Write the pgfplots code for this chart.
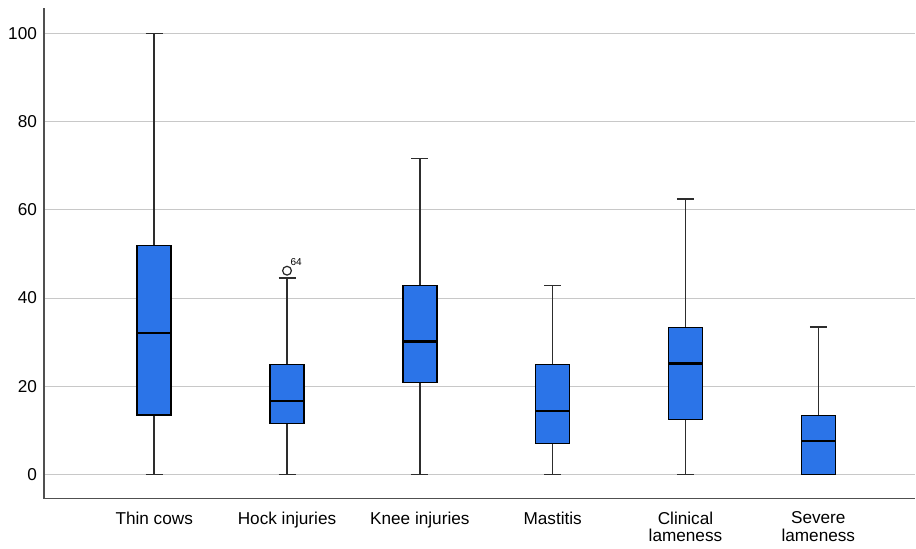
\documentclass[border=0pt]{standalone}
\usepackage{pgfplots}
\pgfplotsset{compat=1.18}
\usepgfplotslibrary{statistics}
\usepackage{fontspec}
\setmainfont{Liberation Sans}
\definecolor{boxblue}{RGB}{43,116,232}
\definecolor{gridgray}{RGB}{200,200,200}
\definecolor{axgray}{RGB}{80,80,80}
\definecolor{whgray}{RGB}{45,45,45}
\begin{document}
\begin{tikzpicture}
\begin{axis}[
  scale only axis,
  width=436pt, height=245.5pt,
  xmin=-0.83, xmax=5.73,
  ymin=-5.5, ymax=105.8,
  axis x line=bottom, axis y line=left,
  axis line style={axgray, line width=0.75pt, -},
  xtick={0,1,2,3,4,5},
  xticklabels={Thin cows, Hock injuries, Knee injuries, Mastitis, {Clinical\\lameness}, {Severe\\lameness}},
  ytick={0,20,40,60,80,100},
  major tick length=0pt,
  ymajorgrids, grid style={gridgray, line width=0.5pt},
  tick label style={font=\fontsize{8.6}{8.8}\selectfont, text=black},
  xticklabel style={align=center, yshift=-3pt},
  /pgf/number format/assume math mode=true,
  boxplot/draw direction=y,
  boxplot/box extend=0.256,
  boxplot/whisker extend=0.128,
  boxplot/every box/.style={draw=black, fill=boxblue, line width=0.75pt},
  boxplot/every whisker/.style={draw=whgray, line width=0.75pt},
  boxplot/every median/.style={draw=black, line width=1.3pt},
  bp/.style={solid, draw=black, line width=0.75pt, mark=none},
]
\addplot[bp, boxplot prepared={draw position=0, lower whisker=0, lower quartile=13.5, median=32.1, upper quartile=51.9, upper whisker=100}] coordinates {};
\addplot[bp, boxplot prepared={draw position=1, lower whisker=0, lower quartile=11.5, median=16.6, upper quartile=24.9, upper whisker=44.5}] coordinates {};
\addplot[bp, boxplot prepared={draw position=2, lower whisker=0, lower quartile=20.8, median=30.1, upper quartile=42.8, upper whisker=71.6}] coordinates {};
\addplot[bp, boxplot prepared={draw position=3, lower whisker=0, lower quartile=7.0, median=14.4, upper quartile=24.9, upper whisker=42.8}] coordinates {};
\addplot[bp, boxplot prepared={draw position=4, lower whisker=0, lower quartile=12.4, median=25.1, upper quartile=33.3, upper whisker=62.5}] coordinates {};
\addplot[bp, boxplot prepared={draw position=5, lower whisker=0, lower quartile=0, median=7.6, upper quartile=13.3, upper whisker=33.4}] coordinates {};
\addplot[only marks, mark=o, mark size=2.2pt, mark options={draw=black!85, line width=0.6pt},
  point meta=explicit symbolic, nodes near coords,
  nodes near coords style={font=\fontsize{5}{6}\selectfont, text=black, anchor=south west, inner sep=0.5pt, xshift=1pt, yshift=2pt}]
  coordinates {(1,46.2) [64]};
\end{axis}
\path ([shift={(-22pt,-23.5pt)}]current axis.south west) rectangle ([shift={(0pt,4pt)}]current axis.north east);
\end{tikzpicture}
\end{document}
